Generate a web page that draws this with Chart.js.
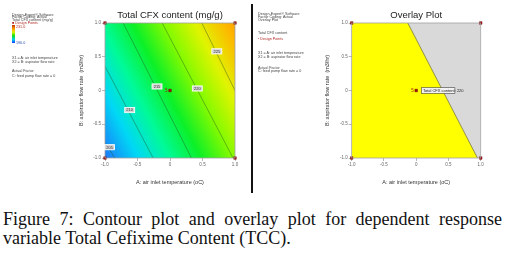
<!DOCTYPE html>
<html>
<head>
<meta charset="utf-8">
<script src="https://cdn.jsdelivr.net/npm/chart.js@4.4.0/dist/chart.umd.min.js"></script>
<style>
body { margin: 0; width: 505px; height: 255px; background: #fff; position: relative; overflow: hidden; font-family: "Liberation Sans", Arial, sans-serif; }
#leftCanvas { position: absolute; left: 0; top: 0; }
#rightCanvas { position: absolute; left: 253px; top: 0; }
.sep { position: absolute; left: 251px; top: 4px; width: 2px; height: 189px; background: #111; }
.t { position: absolute; white-space: nowrap; font-size: 8px; line-height: 8px; color: #444; transform: scale(0.46); transform-origin: 0 0; }
.red { color: #b02a20; }
.blue { color: #3050b0; }
.bar { position: absolute; left: 12px; top: 25px; width: 2.5px; height: 18px; background: linear-gradient(to bottom, #c03000, #ff9900, #e0f000, #10e010, #00d0f0, #1040ff); }
.cap { position: absolute; left: 3px; width: 499px; font-family: "Liberation Serif", "Times New Roman", serif; font-size: 18px; line-height: 19px; color: #111; white-space: nowrap; }
</style>
</head>
<body>
<canvas id="leftCanvas" width="250" height="195"></canvas>
<canvas id="rightCanvas" width="252" height="195"></canvas>
<div class="sep"></div>

<div class="t" style="left:12px;top:12.5px">Design-Expert® Software</div>
<div class="t" style="left:12px;top:15.3px">Factor Coding: Actual</div>
<div class="t" style="left:12px;top:18.1px">Total CFX content (mg/g)</div>
<div class="t red" style="left:12px;top:21px">■ Design Points</div>
<div class="bar"></div>
<div class="t red" style="left:16px;top:24.5px">231.0</div>
<div class="t blue" style="left:16px;top:40.5px">196.0</div>
<div class="t" style="left:12px;top:55.5px">X1 = A: air inlet temperature</div>
<div class="t" style="left:12px;top:59.5px">X2 = B: aspirator flow rate</div>
<div class="t" style="left:12px;top:68.8px">Actual Factor</div>
<div class="t" style="left:12px;top:73.5px">C: feed pump flow rate = 0</div>

<div class="t" style="left:258px;top:12.4px">Design-Expert® Software</div>
<div class="t" style="left:258px;top:15.2px">Factor Coding: Actual</div>
<div class="t" style="left:258px;top:18px">Overlay Plot</div>
<div class="t" style="left:258px;top:31.4px">Total CFX content</div>
<div class="t red" style="left:258px;top:36.7px">• Design Points</div>
<div class="t" style="left:258px;top:51.4px">X1 = A: air inlet temperature</div>
<div class="t" style="left:258px;top:55.2px">X2 = B: aspirator flow rate</div>
<div class="t" style="left:258px;top:65.7px">Actual Factor</div>
<div class="t" style="left:258px;top:69.2px">C: feed pump flow rate = 0</div>

<div class="cap" style="top:210px;text-align:justify;text-align-last:justify;white-space:normal">Figure 7: Contour plot and overlay plot for dependent response</div>
<div class="cap" style="top:229px">variable Total Cefixime Content (TCC).</div>

<script>
// axis ticks (coded factor levels)
const tickValues = [-1, -0.5, 0, 0.5, 1];

// design points (A, B) and replicate count at the centre
const designA = [-1, -1, 1, 1, 0];
const designB = [-1, 1, -1, 1, 0];
const centreReplicates = '5';

// contour lines: level, end points (A, B)
const contourLevels = [205, 210, 215, 220, 225];
const contourA = [[-1, -0.85], [-1, -0.26], [-0.72, 0.33], [-0.12, 0.97], [0.49, 1]];
const contourB = [[-0.77, -1], [0.36, -1], [1, -1], [1, -1], [1, 0.0]];
const labelA = [-0.93, -0.62, -0.2, 0.42, 0.72];
const labelB = [-0.84, -0.29, 0.06, 0.03, 0.58];

// linear surface estimated from contour spacing: b0 + b1*A + b2*B
const surfaceCoef = [216.4, 8.3, 4.4];
const colorLevels = [200, 204, 208, 212, 216, 220, 224, 228, 232];
const colorRamp = ['#1e3cff', '#1a7ef8', '#00d8f5', '#00fa98', '#0cf028', '#84fa00', '#e0f400', '#ffb400', '#ff7400'];

// overlay: feasible (yellow) region edge for Total CFX content = 220
const overlayA = [-1, -0.13, 0.95];
const overlayB = [1, 1, -1];
const overlayLevel = 220;
const flagA = [0.085, 0.6];
const flagB = 0;

const FONT = 'Liberation Sans';

document.addEventListener('DOMContentLoaded', function() {
    createContourChart();
    createOverlayChart();
});

function pts(xs, ys) {
    return xs.map((x, i) => ({ x: x, y: ys[i] }));
}

function surfaceGradient(context) {
    const chart = context.chart;
    const xs = chart.scales.x, ys = chart.scales.y;
    if (!chart.chartArea || !xs || !ys) return 'rgba(0,0,0,0)';
    const px0 = xs.getPixelForValue(0), py0 = ys.getPixelForValue(0);
    const sx = xs.getPixelForValue(1) - px0;
    const sy = py0 - ys.getPixelForValue(1);
    const gx = surfaceCoef[1] / sx, gy = -surfaceCoef[2] / sy;
    const g2 = gx * gx + gy * gy;
    const lo = colorLevels[0], hi = colorLevels[colorLevels.length - 1];
    const k0 = (lo - surfaceCoef[0]) / g2, k1 = (hi - surfaceCoef[0]) / g2;
    const grad = chart.ctx.createLinearGradient(px0 + gx * k0, py0 + gy * k0, px0 + gx * k1, py0 + gy * k1);
    colorLevels.forEach((v, i) => grad.addColorStop((v - lo) / (hi - lo), colorRamp[i]));
    return grad;
}

function axisOptions(label, isX, titlePad) {
    return {
        type: 'linear',
        min: -1,
        max: 1,
        afterBuildTicks: s => { s.ticks = tickValues.map(v => ({ value: v })); },
        afterFit: s => { if (isX) s.height = 37; else s.width = 30; },
        grid: { drawOnChartArea: false, drawTicks: true, tickLength: 3, color: '#999', lineWidth: 0.7 },
        border: { display: false },
        ticks: { font: { family: FONT, size: 4.5 }, color: '#666', padding: isX ? 1.3 : 1, maxRotation: 0 },
        title: { display: true, text: label, font: { family: FONT, size: 5.5 }, color: '#333', padding: titlePad }
    };
}

function designDataset() {
    return {
        label: 'Design Points',
        data: pts(designA, designB),
        showLine: false,
        pointStyle: 'rect',
        pointRadius: 1.8,
        backgroundColor: '#a81010',
        borderColor: '#6a0000',
        borderWidth: 0.5,
        clip: false
    };
}

const frameAndLabels = {
    id: 'frameAndLabels',
    afterDatasetsDraw(chart, args, opts) {
        const { ctx, chartArea: a } = chart;
        const xs = chart.scales.x, ys = chart.scales.y;
        ctx.save();
        ctx.strokeStyle = '#a0a0a0';
        ctx.lineWidth = 0.8;
        ctx.strokeRect(a.left, a.top, a.right - a.left, a.bottom - a.top);

        ctx.font = '4px ' + FONT;
        ctx.textBaseline = 'middle';
        if (opts.contours) {
            contourLevels.forEach((lvl, i) => {
                const x = xs.getPixelForValue(labelA[i]), y = ys.getPixelForValue(labelB[i]);
                ctx.fillStyle = '#d4d4d4';
                ctx.strokeStyle = '#ffffff';
                ctx.lineWidth = 0.8;
                ctx.fillRect(x - 5, y - 2.6, 10, 5.2);
                ctx.strokeRect(x - 5, y - 2.6, 10, 5.2);
                ctx.fillStyle = '#333';
                ctx.textAlign = 'center';
                ctx.fillText(String(lvl), x, y + 0.2);
            });
        }
        if (opts.flag) {
            const x0 = xs.getPixelForValue(flagA[0]), x1 = xs.getPixelForValue(flagA[1]);
            const y = ys.getPixelForValue(flagB);
            ctx.fillStyle = '#f2f2f2';
            ctx.strokeStyle = '#444';
            ctx.lineWidth = 0.6;
            ctx.fillRect(x0, y - 2.8, x1 - x0, 5.6);
            ctx.strokeRect(x0, y - 2.8, x1 - x0, 5.6);
            ctx.fillStyle = '#222';
            ctx.textAlign = 'left';
            ctx.fillText('Total CFX content: ' + overlayLevel, x0 + 1.2, y + 0.2);
        }
        // replicate count beside the centre point
        ctx.fillStyle = '#a02020';
        ctx.font = '4.5px ' + FONT;
        ctx.textAlign = 'right';
        ctx.fillText(centreReplicates, xs.getPixelForValue(0) - 2.5, ys.getPixelForValue(0));
        ctx.restore();
    }
};

function createContourChart() {
    const ctx = document.getElementById('leftCanvas').getContext('2d');
    const lines = contourLevels.map((lvl, i) => ({
        label: String(lvl),
        data: pts(contourA[i], contourB[i]),
        borderColor: 'rgba(35,85,35,0.6)',
        borderWidth: 0.7,
        pointRadius: 0,
        fill: false
    }));

    new Chart(ctx, {
        type: 'line',
        data: {
            datasets: [designDataset()].concat(lines).concat([{
                label: 'surface',
                data: pts([-1, 1], [1, 1]),
                fill: 'start',
                backgroundColor: surfaceGradient,
                borderWidth: 0,
                pointRadius: 0
            }])
        },
        options: {
            responsive: false,
            animation: false,
            layout: { padding: { left: 75, right: 15, top: 0, bottom: 0 } },
            plugins: {
                legend: { display: false },
                tooltip: { enabled: false },
                title: {
                    display: true,
                    fullSize: false,
                    text: 'Total CFX content (mg/g)',
                    font: { family: FONT, size: 9.5, weight: 'normal' },
                    color: '#222',
                    padding: { top: 10, bottom: 1.6 }
                },
                frameAndLabels: { contours: true }
            },
            scales: {
                x: axisOptions('A: air inlet temperature (oC)', true, { top: 0, bottom: 9 }),
                y: axisOptions('B: aspirator flow rate  (m3/hr)', false, { top: 3.4, bottom: 0 })
            }
        },
        plugins: [frameAndLabels]
    });
}

function createOverlayChart() {
    const ctx = document.getElementById('rightCanvas').getContext('2d');

    new Chart(ctx, {
        type: 'line',
        data: {
            datasets: [
                designDataset(),
                {
                    label: 'edge',
                    data: pts(overlayA.slice(1), overlayB.slice(1)),
                    borderColor: '#7a7a40',
                    borderWidth: 0.8,
                    pointRadius: 0,
                    fill: false
                },
                {
                    label: 'feasible',
                    data: pts(overlayA, overlayB),
                    fill: 'start',
                    backgroundColor: '#ffff00',
                    borderWidth: 0,
                    pointRadius: 0
                },
                {
                    label: 'infeasible',
                    data: pts([-1, 1], [1, 1]),
                    fill: 'start',
                    backgroundColor: '#d9d9d9',
                    borderWidth: 0,
                    pointRadius: 0
                }
            ]
        },
        options: {
            responsive: false,
            animation: false,
            layout: { padding: { left: 68.7, right: 24.3, top: 0, bottom: 0 } },
            plugins: {
                legend: { display: false },
                tooltip: { enabled: false },
                title: {
                    display: true,
                    fullSize: false,
                    text: 'Overlay Plot',
                    font: { family: FONT, size: 9.5, weight: 'normal' },
                    color: '#222',
                    padding: { top: 10, bottom: 1.6 }
                },
                frameAndLabels: { flag: true }
            },
            scales: {
                x: axisOptions('A: air inlet temperature (oC)', true, { top: 0, bottom: 9 }),
                y: axisOptions('B: aspirator flow rate  (m3/hr)', false, { top: 2, bottom: 0 })
            }
        },
        plugins: [frameAndLabels]
    });
}
</script>
</body>
</html>
